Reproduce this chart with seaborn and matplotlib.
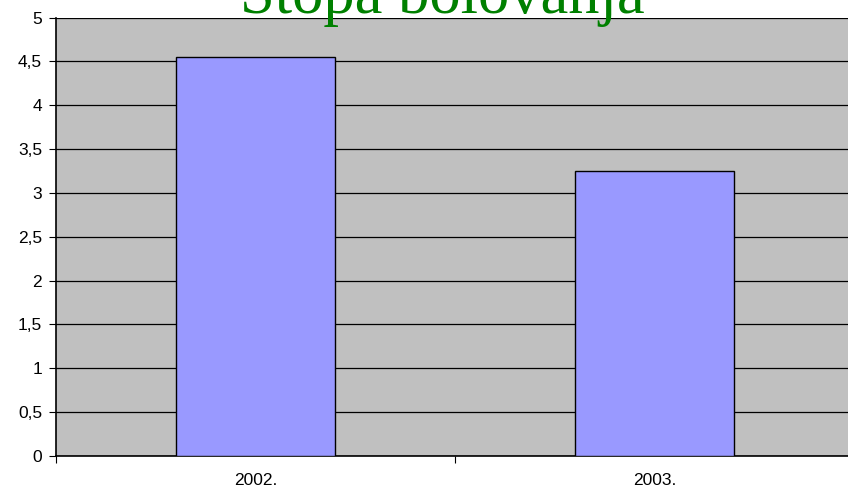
import pandas as pd
import matplotlib.pyplot as plt
import seaborn as sns
from matplotlib.ticker import MultipleLocator, FixedLocator, FuncFormatter

# podaci
godine = ['2002.', '2003.']
stopa = [4.55, 3.25]

df = pd.DataFrame({'godina': godine, 'stopa': stopa})

sns.set_theme(style="white")
plt.rcParams['font.family'] = ['Liberation Sans', 'DejaVu Sans']

fig = plt.figure(figsize=(8.48, 4.93), dpi=100)
ax = fig.add_axes([56 / 848, 37 / 493, (854 - 56) / 848, (456 - 17.5) / 493])
ax.set_facecolor('#C0C0C0')

sns.barplot(data=df, x='godina', y='stopa', color='#9999FF', width=0.4,
            edgecolor='black', linewidth=1, saturation=1, ax=ax, zorder=3)

ax.set_xlim(-0.5, 1.5)
ax.set_ylim(0, 5)
ax.yaxis.set_major_locator(MultipleLocator(0.5))
ax.yaxis.set_major_formatter(FuncFormatter(lambda v, p: f"{v:g}".replace('.', ',')))
ax.grid(axis='y', color='black', linewidth=0.9, zorder=1)
ax.set_axisbelow(True)

ax.xaxis.set_minor_locator(FixedLocator([-0.5, 0.5, 1.5]))
ax.tick_params(axis='x', which='major', length=0, pad=12, labelsize=12.5, colors='black')
ax.tick_params(axis='x', which='minor', length=5, width=0.8, color='black', bottom=True)
ax.tick_params(axis='y', length=5, width=0.8, color='black', left=True, labelsize=12.5,
               colors='black', pad=5)

for s in ['top', 'right']:
    ax.spines[s].set_visible(False)
for s in ['left', 'bottom']:
    ax.spines[s].set_color('black')
    ax.spines[s].set_linewidth(1.2)

ax.set_xlabel('')
ax.set_ylabel('')

fig.text(442 / 848, 1 - 13 / 493, 'Stopa bolovanja', color='#008000', fontsize=45,
         family=['Liberation Serif', 'DejaVu Serif'], ha='center', va='baseline')

fig.savefig('out.png', dpi=100)
